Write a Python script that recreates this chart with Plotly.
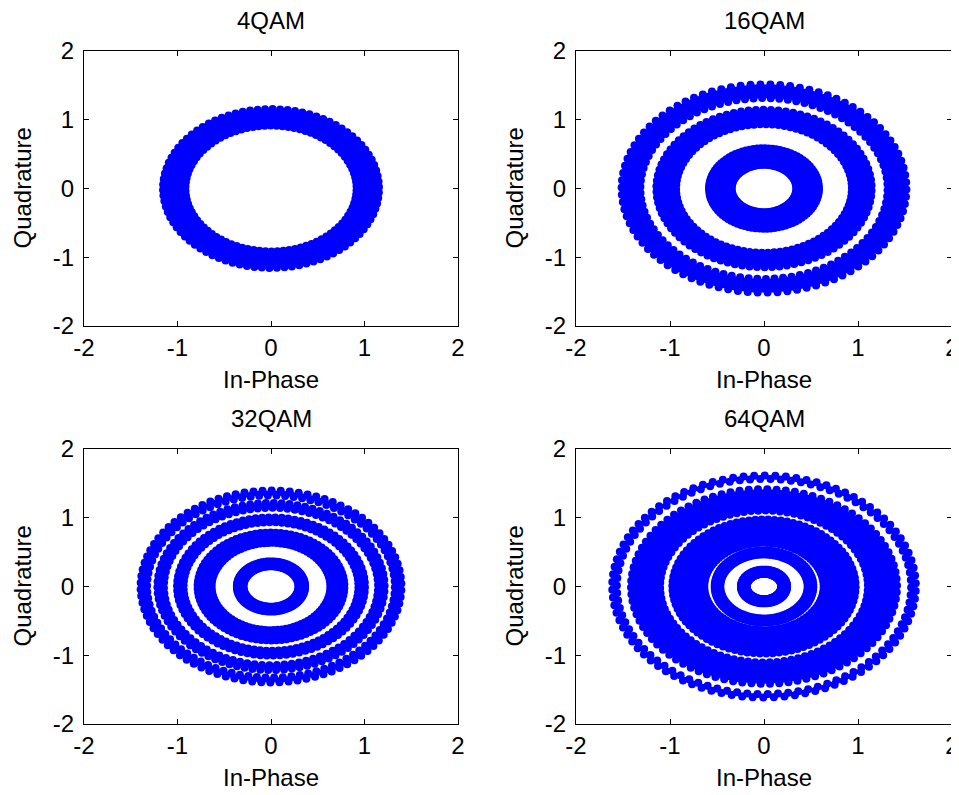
import numpy as np
import plotly.graph_objects as go

# ---- data (ring bands of the received constellations, radius units) ----
titles = ["4QAM", "16QAM", "32QAM", "64QAM"]

inner_4qam = [0.87]
outer_4qam = [1.20]

inner_16qam = [0.30, 0.89, 1.27]
outer_16qam = [0.63, 1.19, 1.56]

inner_32qam = [0.25, 0.59, 0.89, 1.10, 1.28]
outer_32qam = [0.41, 0.83, 1.05, 1.26, 1.44]

inner_64qam = [0.14, 0.42, 0.59, 1.06, 1.52]
outer_64qam = [0.29, 0.57, 1.02, 1.46, 1.66]

tick_vals = [-2, -1, 0, 1, 2]
tick_text = ["-2", "-1", "0", "1", "2"]
x_label = "In-Phase"
y_label = "Quadrature"

panels = [
    (inner_4qam, outer_4qam),
    (inner_16qam, outer_16qam),
    (inner_32qam, outer_32qam),
    (inner_64qam, outer_64qam),
]

# ---- layout geometry: reference pixels of the 959x795 window; the page body has an 8px margin ----
OFF = 8
W, H = 959 - OFF, 795 - OFF
x_px = [(84 - OFF, 458 - OFF), (576 - OFF, 952 - OFF)]
y_px = [(51 - OFF, 326 - OFF), (449 - OFF, 724 - OFF)]
x_doms = [[a / W, b / W] for a, b in x_px]
y_doms = [[1 - b / H, 1 - a / H] for a, b in y_px]
ylabel_x_px = [22 - OFF, 514 - OFF]
xlabel_dy_px = 53      # from axis bottom to centre of "In-Phase"
title_dy_px = 31       # from axis top to centre of title

BLUE = "#0000FF"
FONT = "Liberation Sans, Arial, Helvetica, sans-serif"
edge_pad = 0.045           # marker centre inset from band edge
fill_angles = np.deg2rad(np.arange(0, 361, 2))
dot_angles = np.deg2rad(np.arange(0, 360, 4))

fig = go.Figure()

for i, (inner, outer) in enumerate(panels):
    xa = "x" if i == 0 else f"x{i + 1}"
    ya = "y" if i == 0 else f"y{i + 1}"
    for k, (r_in, r_out) in enumerate(zip(inner, outer)):
        a = r_in + edge_pad
        b = r_out - edge_pad
        # filled annulus (outer ccw, inner cw)
        px = np.concatenate([b * np.cos(fill_angles), a * np.cos(fill_angles[::-1])])
        py = np.concatenate([b * np.sin(fill_angles), a * np.sin(fill_angles[::-1])])
        fig.add_trace(go.Scatter(
            x=px, y=py, mode="lines", fill="toself", fillcolor=BLUE,
            line=dict(width=0, color=BLUE), xaxis=xa, yaxis=ya,
            hoverinfo="skip", showlegend=False,
        ))
        # dots along both band edges
        off = 0.02 * (k + 1)
        dx = np.concatenate([b * np.cos(dot_angles + off), a * np.cos(dot_angles + 2 * off)])
        dy = np.concatenate([b * np.sin(dot_angles + off), a * np.sin(dot_angles + 2 * off)])
        fig.add_trace(go.Scatter(
            x=dx, y=dy, mode="markers",
            marker=dict(size=8, color=BLUE, line=dict(width=0)),
            xaxis=xa, yaxis=ya, showlegend=False,
        ))

axis_common = dict(
    range=[-2, 2], tickmode="array", tickvals=tick_vals, ticktext=tick_text,
    ticks="inside", ticklen=5, tickwidth=1, tickcolor="black",
    showline=True, linecolor="black", linewidth=1, mirror="ticks",
    showgrid=False, zeroline=False, automargin=False,
    tickfont=dict(family=FONT, size=24, color="black"),
)

layout = dict(
    width=W, height=H, margin=dict(l=0, r=0, t=0, b=0, autoexpand=False),
    paper_bgcolor="white", plot_bgcolor="white", showlegend=False,
    annotations=[],
)

txt_font = dict(family=FONT, size=24, color="black")

for i in range(4):
    row, col = divmod(i, 2)
    xkey = "xaxis" if i == 0 else f"xaxis{i + 1}"
    ykey = "yaxis" if i == 0 else f"yaxis{i + 1}"
    xa = "x" if i == 0 else f"x{i + 1}"
    ya = "y" if i == 0 else f"y{i + 1}"
    layout[xkey] = dict(axis_common, domain=x_doms[col], anchor=ya, ticklabelstandoff=0)
    layout[ykey] = dict(axis_common, domain=y_doms[row], anchor=xa, ticklabelstandoff=4)
    xc = sum(x_doms[col]) / 2
    yc = sum(y_doms[row]) / 2
    # subplot title
    layout["annotations"].append(dict(
        text=titles[i], xref="paper", yref="paper",
        x=xc, y=1 - (y_px[row][0] - title_dy_px) / H,
        xanchor="center", yanchor="middle", showarrow=False, font=txt_font,
    ))
    # x-axis label
    layout["annotations"].append(dict(
        text=x_label, xref="paper", yref="paper",
        x=xc, y=1 - (y_px[row][1] + xlabel_dy_px) / H,
        xanchor="center", yanchor="middle", showarrow=False, font=txt_font,
    ))
    # y-axis label
    layout["annotations"].append(dict(
        text=y_label, xref="paper", yref="paper", textangle=-90,
        x=ylabel_x_px[col] / W, y=yc,
        xanchor="center", yanchor="middle", showarrow=False, font=txt_font,
    ))

fig.update_layout(**layout)
fig.write_html("out.html")
